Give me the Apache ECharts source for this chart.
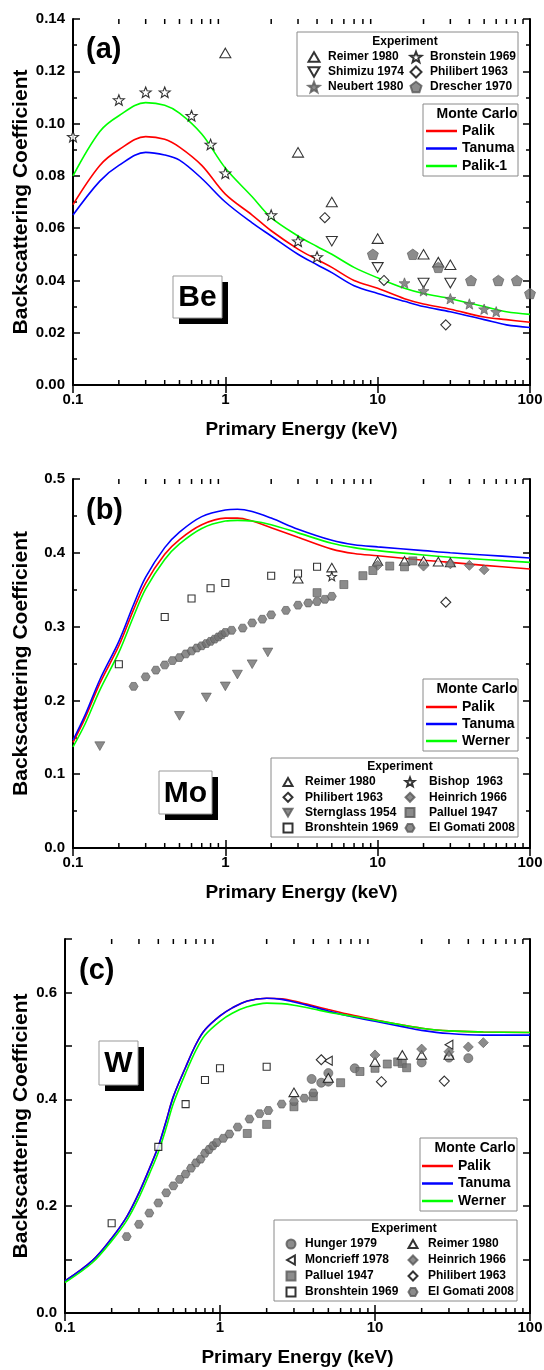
<!DOCTYPE html>
<html><head><meta charset="utf-8">
<script src="https://cdn.jsdelivr.net/npm/echarts@6/dist/echarts.min.js"></script>
<style>html,body{margin:0;padding:0;background:#fff}#c{width:544px;height:1370px}</style>
</head><body><div id="c"></div>
<script>
// ================= DATA =================
const xTickLabels = ['0.1', '1', '10', '100'];
const xAxisTitle = 'Primary Energy (keV)';
const yAxisTitle = 'Backscattering Coefficient';

// ---- Panel (a) Be ----
const beCurveEnergy = [0.1,0.15,0.2,0.3,0.4,0.5,0.7,1,1.5,2,3,4,5,7,10,15,20,30,50,70,100];
const bePalik   = [0.069,0.084,0.090,0.095,0.094,0.091,0.084,0.073,0.065,0.059,0.052,0.048,0.045,0.040,0.037,0.033,0.031,0.029,0.026,0.025,0.024];
const beTanuma  = [0.065,0.078,0.084,0.089,0.088,0.086,0.079,0.070,0.062,0.057,0.050,0.046,0.043,0.038,0.035,0.032,0.030,0.028,0.025,0.023,0.022];
const bePalik1  = [0.080,0.097,0.103,0.108,0.107,0.104,0.096,0.083,0.072,0.064,0.057,0.053,0.050,0.045,0.041,0.037,0.035,0.033,0.030,0.028,0.027];
const beReimer1980    = [[1,0.127],[3,0.089],[5,0.070],[10,0.056],[20,0.050],[25,0.047],[30,0.046]];
const beShimizu1974   = [[5,0.055],[10,0.045],[20,0.039],[30,0.039]];
const beNeubert1980   = [[15,0.039],[20,0.036],[30,0.033],[40,0.031],[50,0.029],[60,0.028]];
const beBronstein1969 = [[0.1,0.095],[0.2,0.109],[0.3,0.112],[0.4,0.112],[0.6,0.103],[0.8,0.092],[1,0.081],[2,0.065],[3,0.055],[4,0.049]];
const bePhilibert1963 = [[4.5,0.064],[11,0.040],[28,0.023]];
const beDrescher1970  = [[9.3,0.050],[17,0.050],[25,0.045],[41,0.040],[62,0.040],[82,0.040],[100,0.035]];

// ---- Panel (b) Mo ----
const moCurveEnergy = [0.1,0.12,0.15,0.2,0.25,0.3,0.4,0.5,0.7,1,1.2,1.5,2,3,5,7,10,20,30,50,100];
const moPalik   = [0.143,0.176,0.223,0.274,0.323,0.359,0.398,0.418,0.438,0.447,0.447,0.443,0.434,0.421,0.405,0.399,0.396,0.390,0.387,0.383,0.378];
const moTanuma  = [0.146,0.180,0.228,0.280,0.330,0.367,0.407,0.428,0.449,0.458,0.459,0.456,0.447,0.432,0.417,0.411,0.408,0.403,0.400,0.397,0.393];
const moWerner  = [0.137,0.168,0.214,0.265,0.314,0.351,0.391,0.412,0.433,0.443,0.444,0.443,0.438,0.427,0.413,0.407,0.403,0.397,0.394,0.391,0.387];
const moReimer1980     = [[3,0.365],[5,0.380],[10,0.389],[15,0.389],[20,0.389],[25,0.388],[30,0.387]];
const moBishop1963     = [[5,0.368]];
const moPhilibert1963  = [[28,0.333]];
const moHeinrich1966   = [[10,0.383],[20,0.382],[30,0.385],[40,0.383],[50,0.377]];
const moSternglass1954 = [[0.15,0.138],[0.5,0.179],[0.75,0.204],[1,0.219],[1.2,0.235],[1.5,0.249],[1.9,0.265]];
const moPalluel1947    = [[4,0.346],[6,0.357],[8,0.369],[9.3,0.376],[12,0.382],[15,0.381],[17,0.389]];
const moBronshtein1969 = [[0.2,0.249],[0.4,0.313],[0.6,0.338],[0.8,0.352],[1,0.359],[2,0.369],[3,0.372],[4,0.381]];
const moElGomati2008   = [[0.25,0.219],[0.3,0.232],[0.35,0.241],[0.4,0.248],[0.45,0.254],[0.5,0.258],[0.55,0.263],[0.6,0.267],[0.65,0.271],[0.7,0.274],[0.75,0.277],[0.8,0.280],[0.85,0.283],[0.9,0.286],[0.95,0.289],[1.0,0.292],[1.1,0.295],[1.3,0.298],[1.5,0.305],[1.75,0.310],[2.0,0.316],[2.5,0.322],[3.0,0.329],[3.5,0.332],[4.0,0.334],[4.5,0.337],[5.0,0.341]];

// ---- Panel (c) W ----
const wCurveEnergy = [0.1,0.15,0.2,0.25,0.3,0.35,0.4,0.45,0.5,0.6,0.7,0.8,1,1.2,1.5,2,2.5,3,4,5,7,10,15,20,30,50,100];
const wPalik   = [0.060,0.098,0.140,0.180,0.225,0.270,0.312,0.360,0.405,0.460,0.503,0.530,0.556,0.571,0.584,0.589,0.588,0.584,0.575,0.568,0.558,0.549,0.539,0.533,0.528,0.526,0.525];
const wTanuma  = [0.060,0.098,0.140,0.180,0.225,0.270,0.312,0.360,0.405,0.460,0.503,0.530,0.556,0.571,0.584,0.589,0.587,0.582,0.573,0.565,0.555,0.546,0.536,0.529,0.523,0.520,0.520];
const wWerner  = [0.057,0.094,0.135,0.173,0.216,0.260,0.301,0.347,0.392,0.449,0.492,0.520,0.546,0.561,0.573,0.580,0.579,0.576,0.569,0.563,0.556,0.548,0.539,0.533,0.528,0.526,0.525];
const wHunger1979     = [[3.9,0.438],[4.5,0.431],[5,0.449],[5,0.433],[7.4,0.458],[20,0.469],[30,0.478],[40,0.477]];
const wMoncrieff1978  = [[5,0.472],[30,0.502]];
const wPalluel1947    = [[1.5,0.336],[2,0.353],[3,0.386],[4,0.405],[6,0.431],[8,0.452],[10,0.458],[12,0.466],[14,0.470],[15,0.467],[16,0.459]];
const wBronshtein1969 = [[0.2,0.168],[0.4,0.311],[0.6,0.391],[0.8,0.436],[1,0.458],[2,0.461]];
const wReimer1980     = [[3,0.413],[5,0.440],[10,0.470],[15,0.483],[20,0.483],[30,0.483]];
const wHeinrich1966   = [[10,0.483],[20,0.494],[30,0.489],[40,0.498],[50,0.506]];
const wPhilibert1963  = [[4.5,0.474],[11,0.433],[28,0.434]];
const wElGomati2008   = [[0.25,0.143],[0.3,0.166],[0.35,0.187],[0.4,0.206],[0.45,0.225],[0.5,0.238],[0.55,0.250],[0.6,0.260],[0.65,0.271],[0.7,0.281],[0.75,0.288],[0.8,0.299],[0.85,0.306],[0.9,0.313],[0.95,0.319],[1.05,0.327],[1.15,0.335],[1.3,0.348],[1.55,0.363],[1.8,0.373],[2.05,0.379],[2.5,0.391],[3,0.396],[3.5,0.402],[4,0.412]];

// ================= STYLE / BUILD =================
const FONT = 'Arial, "Liberation Sans", sans-serif';
function poly(n, ro, ri, rot) {
  const m = ri ? 2 * n : n, p = [];
  for (let i = 0; i < m; i++) {
    const r = ri ? (i % 2 ? ri : ro) : ro;
    const a = rot + i * Math.PI * 2 / m;
    p.push((10 + r * Math.sin(a)).toFixed(2) + ',' + (10 - r * Math.cos(a)).toFixed(2));
  }
  return 'path://M' + p.join('L') + 'Z';
}
const SYM = {
  triUp: 'path://M5,0L10,8.66L0,8.66Z',
  triDown: 'path://M0,0L10,0L5,8.66Z',
  triLeft: 'path://M8.66,0L8.66,10L0,5Z',
  star: poly(5, 10, 4.2, 0),
  pentagon: poly(5, 10, 0, 0),
  hexagon: poly(6, 10, 0, Math.PI / 6),
  diamond: 'diamond', rect: 'rect', circle: 'circle'
};
const OPEN = { color: '#fff', borderColor: '#000', borderWidth: 1.1 };
const FILL = { color: '#6f6f6f', borderColor: '#585858', borderWidth: 0.8 };

const grids = [
  { left: 73, top: 19, width: 457, height: 366, outerBoundsMode: 'none', containLabel: false },
  { left: 73, top: 479, width: 457, height: 369, outerBoundsMode: 'none', containLabel: false },
  { left: 65, top: 939, width: 465, height: 374, outerBoundsMode: 'none', containLabel: false }
];
const yCfg = [
  { max: 0.14, interval: 0.02, minor: true, fmt: v => v.toFixed(2) },
  { max: 0.5, interval: 0.1, minor: true, fmt: v => v.toFixed(1) },
  { max: 0.7, interval: 0.1, minor: false, fmt: v => (Math.round(v * 10) % 2 === 0 && v < 0.65 ? v.toFixed(1) : '') }
];
const yNameGap = [41, 41, 33];

const xAxes = [], yAxes = [];
const lineBlack = { show: true, lineStyle: { color: '#000', width: 2 } };
grids.forEach((g, gi) => {
  const xBase = { type: 'log', logBase: 10, min: 0.1, max: 100, gridIndex: gi, splitLine: { show: false }, axisLine: lineBlack,
    axisTick: { show: true, inside: true, length: 8, lineStyle: { color: '#000', width: 1.5 } } };
  xAxes.push(Object.assign({}, xBase, {
    position: 'bottom', name: xAxisTitle, nameLocation: 'middle', nameGap: 35, nameMoveOverlap: false,
    nameTextStyle: { fontFamily: FONT, fontWeight: 'bold', fontSize: 19, color: '#000' },
    axisLabel: { show: true, margin: 7, fontFamily: FONT, fontWeight: 'bold', fontSize: 15, color: '#000',
      formatter: v => { const s = xTickLabels.find(t => Math.abs(parseFloat(t) - v) < 1e-6 * Math.max(1, v)); return s || ''; } }
  }));
  xAxes.push(Object.assign({}, xBase, { position: 'top', axisLabel: { show: false } }));
  const c = yCfg[gi];
  const yBase = { type: 'value', min: 0, max: c.max, interval: c.interval, gridIndex: gi, splitLine: { show: false }, axisLine: lineBlack,
    axisTick: { show: true, inside: true, length: 7, lineStyle: { color: '#000', width: 1.5 } },
    minorTick: { show: c.minor, splitNumber: 2, length: 4, lineStyle: { color: '#000', width: 1.5 } } };
  yAxes.push(Object.assign({}, yBase, {
    position: 'left', name: yAxisTitle, nameLocation: 'middle', nameGap: yNameGap[gi], nameRotate: 90, nameMoveOverlap: false,
    nameTextStyle: { fontFamily: FONT, fontWeight: 'bold', fontSize: 21, color: '#000' },
    axisLabel: { show: true, margin: 8, fontFamily: FONT, fontWeight: 'bold', fontSize: 15, color: '#000', formatter: c.fmt }
  }));
  yAxes.push(Object.assign({}, yBase, { position: 'right', axisLabel: { show: false } }));
});

// minor log ticks (2..9 per decade) drawn through the x scale
const minorTickValues = [];
[0.1, 1, 10].forEach(d => { for (let k = 2; k <= 9; k++) minorTickValues.push([+(d * k).toPrecision(3), 0]); });

const series = [];
function curve(name, xs, ys, color, gi) {
  series.push({ type: 'line', name, xAxisIndex: gi * 2, yAxisIndex: gi * 2, data: xs.map((x, i) => [x, ys[i]]),
    symbol: 'none', showSymbol: false, smooth: 0.35, lineStyle: { color, width: 1.6 }, itemStyle: { color }, z: 3, silent: true });
}
function pts(name, data, gi, sym, size, style) {
  series.push({ type: 'scatter', name, xAxisIndex: gi * 2, yAxisIndex: gi * 2, data, symbol: SYM[sym], symbolSize: size,
    symbolKeepAspect: true, itemStyle: style, z: 5, silent: true });
}
grids.forEach((g, gi) => {
  series.push({ type: 'custom', xAxisIndex: gi * 2, yAxisIndex: gi * 2, data: minorTickValues, silent: true, z: 6,
    renderItem: (params, api) => {
      const cs = params.coordSys;
      const x = api.coord([api.value(0), 0])[0];
      const st = { stroke: '#000', lineWidth: 1.5 };
      return { type: 'group', children: [
        { type: 'line', shape: { x1: x, y1: cs.y + cs.height, x2: x, y2: cs.y + cs.height - 5 }, style: st },
        { type: 'line', shape: { x1: x, y1: cs.y, x2: x, y2: cs.y + 5 }, style: st }
      ] };
    } });
});

// panel a
curve('Palik', beCurveEnergy, bePalik, '#ff0000', 0);
curve('Tanuma', beCurveEnergy, beTanuma, '#0000ff', 0);
curve('Palik-1', beCurveEnergy, bePalik1, '#00ff00', 0);
pts('Reimer 1980', beReimer1980, 0, 'triUp', 11, OPEN);
pts('Shimizu 1974', beShimizu1974, 0, 'triDown', 11, OPEN);
pts('Neubert 1980', beNeubert1980, 0, 'star', 11, FILL);
pts('Bronstein 1969', beBronstein1969, 0, 'star', 11, OPEN);
pts('Philibert 1963', bePhilibert1963, 0, 'diamond', 10, OPEN);
pts('Drescher 1970', beDrescher1970, 0, 'pentagon', 11, FILL);
// panel b
curve('Palik', moCurveEnergy, moPalik, '#ff0000', 1);
curve('Tanuma', moCurveEnergy, moTanuma, '#0000ff', 1);
curve('Werner', moCurveEnergy, moWerner, '#00ff00', 1);
pts('Reimer 1980', moReimer1980, 1, 'triUp', 10, OPEN);
pts('Bishop  1963', moBishop1963, 1, 'star', 9, OPEN);
pts('Philibert 1963', moPhilibert1963, 1, 'diamond', 10, OPEN);
pts('Heinrich 1966', moHeinrich1966, 1, 'diamond', 10, FILL);
pts('Sternglass 1954', moSternglass1954, 1, 'triDown', 10, FILL);
pts('Palluel 1947', moPalluel1947, 1, 'rect', 8, FILL);
pts('Bronshtein 1969', moBronshtein1969, 1, 'rect', 7, OPEN);
pts('El Gomati 2008', moElGomati2008, 1, 'hexagon', 9, FILL);
// panel c
curve('Palik', wCurveEnergy, wPalik, '#ff0000', 2);
curve('Tanuma', wCurveEnergy, wTanuma, '#0000ff', 2);
curve('Werner', wCurveEnergy, wWerner, '#00ff00', 2);
pts('Hunger 1979', wHunger1979, 2, 'circle', 9, FILL);
pts('Moncrieff 1978', wMoncrieff1978, 2, 'triLeft', 9, OPEN);
pts('Palluel 1947', wPalluel1947, 2, 'rect', 8, FILL);
pts('Bronshtein 1969', wBronshtein1969, 2, 'rect', 7, OPEN);
pts('Reimer 1980', wReimer1980, 2, 'triUp', 10, OPEN);
pts('Heinrich 1966', wHeinrich1966, 2, 'diamond', 10, FILL);
pts('Philibert 1963', wPhilibert1963, 2, 'diamond', 10, OPEN);
pts('El Gomati 2008', wElGomati2008, 2, 'hexagon', 9, FILL);

// legends
function expLegend(left, top, size, gap, pad, names) {
  return { orient: 'vertical', left, top, itemWidth: size, itemHeight: size, itemGap: gap, padding: 0, selectedMode: false,
    symbolKeepAspect: true,
    textStyle: { fontFamily: FONT, fontWeight: 'bold', fontSize: 12, color: '#000', lineHeight: 14, padding: [0, 0, 0, pad] },
    data: names, z: 10 };
}
function mcLegend(left, top, gap, names) {
  return { orient: 'vertical', left, top, icon: 'rect', itemWidth: 31, itemHeight: 2.5, itemGap: gap, padding: 0, selectedMode: false,
    textStyle: { fontFamily: FONT, fontWeight: 'bold', fontSize: 14, color: '#000', lineHeight: 17 }, data: names, z: 10 };
}
const legend = [
  expLegend(307.5, 50, 11, 1, 3.5, ['Reimer 1980', 'Shimizu 1974', 'Neubert 1980']),
  expLegend(409.5, 50, 11, 1, 3.5, ['Bronstein 1969', 'Philibert 1963', 'Drescher 1970']),
  mcLegend(426, 122.5, 0.5, ['Palik', 'Tanuma', 'Palik-1']),
  expLegend(282.5, 775, 9, 1.3, 7.5, ['Reimer 1980', 'Philibert 1963', 'Sternglass 1954', 'Bronshtein 1969']),
  expLegend(404.5, 775, 9, 1.3, 9.5, ['Bishop  1963', 'Heinrich 1966', 'Palluel 1947', 'El Gomati 2008']),
  mcLegend(426, 698.5, 0, ['Palik', 'Tanuma', 'Werner']),
  expLegend(285.5, 1237, 9, 2, 4.5, ['Hunger 1979', 'Moncrieff 1978', 'Palluel 1947', 'Bronshtein 1969']),
  expLegend(407.5, 1237, 9, 2, 5.5, ['Reimer 1980', 'Heinrich 1966', 'Philibert 1963', 'El Gomati 2008']),
  mcLegend(422, 1157.5, 0.5, ['Palik', 'Tanuma', 'Werner'])
];

// decorations
const G = [];
function box(x, y, w, h) { G.push({ type: 'rect', shape: { x, y, width: w, height: h }, style: { fill: '#fff', stroke: '#8a8a8a', lineWidth: 1 }, z: 8 }); }
function txt(x, y, s, size, align) { G.push({ type: 'text', x, y, style: { text: s, fontFamily: FONT, fontWeight: 'bold', fontSize: size, fill: '#000', align: align || 'center', verticalAlign: 'middle' }, z: 9 }); }
function elem(x, y, w, h, s) {
  G.push({ type: 'rect', shape: { x: x + 6, y: y + 6, width: w, height: h }, style: { fill: '#000' }, z: 8 });
  G.push({ type: 'rect', shape: { x, y, width: w, height: h }, style: { fill: '#fff', stroke: '#999', lineWidth: 1 }, z: 8 });
  txt(x + w / 2, y + h / 2 + 1, s, 30);
}
box(297, 32, 221, 64); txt(405, 42, 'Experiment', 12);
box(423, 104, 95, 72); txt(477, 114, 'Monte Carlo', 14);
box(423, 679, 95, 72); txt(477, 689, 'Monte Carlo', 14);
box(271, 758, 247, 79); txt(400, 767, 'Experiment', 12);
box(420, 1138, 97, 73); txt(475, 1148, 'Monte Carlo', 14);
box(274, 1220, 243, 81); txt(404, 1229, 'Experiment', 12);
txt(86, 50, '(a)', 29, 'left');
txt(86, 511, '(b)', 29, 'left');
txt(79, 971, '(c)', 29, 'left');
elem(173, 276, 49, 42, 'Be');
elem(159, 771, 53, 43, 'Mo');
elem(99, 1041, 39, 44, 'W');

const chart = echarts.init(document.getElementById('c'), null, { renderer: 'canvas' });
chart.setOption({
  backgroundColor: '#fff', animation: false,
  grid: grids, xAxis: xAxes, yAxis: yAxes, series, legend, graphic: { elements: G }
});
</script></body></html>
